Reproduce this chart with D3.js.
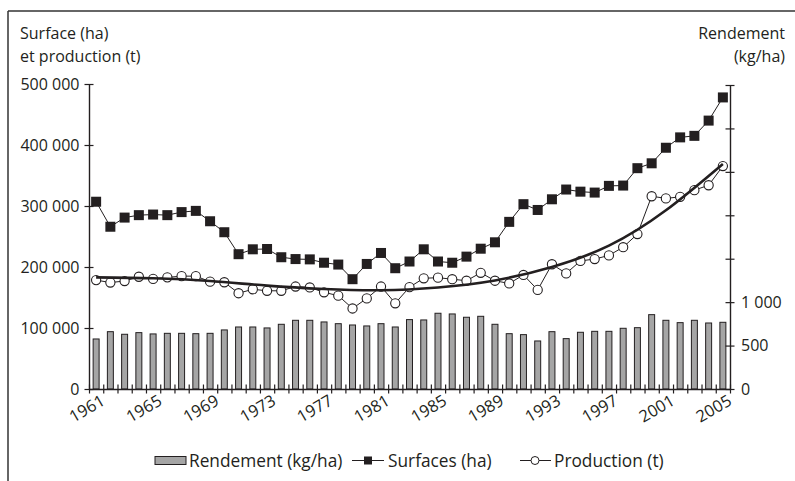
<!DOCTYPE html>
<html><head><meta charset="utf-8">
<script src="https://cdn.jsdelivr.net/npm/d3@7"></script>
<style>
body{margin:0;background:#fff}
text{font-family:'Open Sans',sans-serif;fill:#231f20}
</style>
</head><body><svg id="c" width="795" height="481"></svg>
<script>
const years = [1961,1962,1963,1964,1965,1966,1967,1968,1969,1970,1971,1972,1973,1974,1975,1976,1977,1978,1979,1980,1981,1982,1983,1984,1985,1986,1987,1988,1989,1990,1991,1992,1993,1994,1995,1996,1997,1998,1999,2000,2001,2002,2003,2004,2005];
const rendement = [576,660,630,649,634,641,641,637,641,680,714,714,703,745,791,791,772,752,737,726,752,714,799,795,872,864,826,837,745,637,626,553,660,580,653,664,664,699,706,856,791,764,791,760,768];
const surfaces = [307000,266000,281000,285000,286000,285000,290000,292000,275000,257000,221000,229000,229500,216000,213000,212500,207000,204000,180000,205000,223000,198000,209000,229000,209000,207000,217000,230000,240500,274000,303000,293500,311000,327000,323500,322000,333000,333500,362000,370000,395500,412500,415000,440000,478000];
const production = [178500,174500,177000,184000,180500,183000,185000,185000,176000,175000,157000,163500,161000,161000,168000,166500,158500,153000,132000,148500,168000,140500,167000,181500,182500,180000,177500,190500,177500,173000,187000,162500,204500,189500,210000,213000,219000,232500,254000,316000,312500,315000,326000,334000,365500];
const trendYears = [1961,1965,1969,1973,1977,1981,1985,1989,1993,1997,2001,2005];
const trendValues = [183000,181500,177000,169500,164000,162000,166500,178000,200000,235000,293000,369000];
const leftTicks = [0,100000,200000,300000,400000,500000];
const rightTicks = [0,500,1000,1500,2000,2500,3000,3500];
const rightLabels = [0,500,1000];
const labelYears = [1961,1965,1969,1973,1977,1981,1985,1989,1993,1997,2001,2005];

const INK = '#231f20';
const svg = d3.select('#c');
const fmt = d => d3.format(',')(d).replace(/,/g, '\u00a0');

const x = d3.scaleBand().domain(years).range([89, 730]).padding(0);
const xEdge = d3.scaleLinear().domain([1961, 2006]).range([89, 730]);
const cx = d => x(d) + x.bandwidth() / 2;
const yL = d3.scaleLinear().domain([0, 500000]).range([389, 84]);
const yR = d3.scaleLinear().domain([0, 3500]).range([389, 85]);

// frame
svg.append('line').attr('x1', 8).attr('y1', 11).attr('x2', 795).attr('y2', 11).attr('stroke', '#333').attr('stroke-width', 1.5);
svg.append('line').attr('x1', 8).attr('y1', 11).attr('x2', 8).attr('y2', 481).attr('stroke', '#333').attr('stroke-width', 1.5);

// titles
svg.append('text').attr('x', 20).attr('y', 39).attr('font-size', 16).text('Surface (ha)');
svg.append('text').attr('x', 20).attr('y', 62).attr('font-size', 16).text('et production (t)');
svg.append('text').attr('x', 785).attr('y', 39).attr('font-size', 16).attr('text-anchor', 'end').text('Rendement');
svg.append('text').attr('x', 785).attr('y', 62).attr('font-size', 16).attr('text-anchor', 'end').text('(kg/ha)');

// bars
const bw = x.bandwidth() * 0.42;
svg.append('g').selectAll('rect').data(years).join('rect')
  .attr('x', (d) => cx(d) - bw / 2)
  .attr('y', (d, i) => yR(rendement[i]))
  .attr('width', bw)
  .attr('height', (d, i) => 389 - yR(rendement[i]))
  .attr('fill', '#a5a5a5').attr('stroke', INK).attr('stroke-width', 1);

// axes
function styleAxis(g) {
  g.selectAll('path.domain').attr('stroke', INK).attr('stroke-width', 1.4);
  g.selectAll('.tick line').attr('stroke', INK).attr('stroke-width', 1.2);
  g.selectAll('text').attr('font-size', 16).attr('font-family', "'Open Sans',sans-serif").attr('fill', INK);
}
const gL = svg.append('g').attr('transform', 'translate(89,0)')
  .call(d3.axisLeft(yL).tickValues(leftTicks).tickFormat(fmt).tickSizeInner(4.5).tickSizeOuter(0).tickPadding(5));
gL.selectAll('.tick line').attr('x1', 4.5).attr('x2', -4.5);
styleAxis(gL);

const gR = svg.append('g').attr('transform', 'translate(730,0)')
  .call(d3.axisRight(yR).tickValues(rightTicks).tickFormat(d => rightLabels.includes(d) ? fmt(d) : '').tickSizeInner(4.5).tickSizeOuter(0).tickPadding(6.5));
gR.selectAll('.tick line').attr('x1', -4.5).attr('x2', 4.5);
styleAxis(gR);

const gX = svg.append('g').attr('transform', 'translate(0,389)')
  .call(d3.axisBottom(xEdge).tickValues(d3.range(1961, 2007)).tickFormat('').tickSizeInner(4.5).tickSizeOuter(0));
gX.selectAll('.tick line').attr('y1', -4.5).attr('y2', 4.5);
styleAxis(gX);

svg.append('g').selectAll('text').data(labelYears).join('text')
  .attr('transform', d => `translate(${cx(d) + 10},404) rotate(-30)`)
  .attr('text-anchor', 'end').attr('font-size', 16.5).text(d => d);

// production line + circles
svg.append('path').datum(years)
  .attr('d', d3.line().x(d => cx(d)).y((d, i) => yL(production[i])))
  .attr('fill', 'none').attr('stroke', INK).attr('stroke-width', 1);
svg.append('g').selectAll('circle').data(years).join('circle')
  .attr('cx', d => cx(d)).attr('cy', (d, i) => yL(production[i])).attr('r', 4.6)
  .attr('fill', '#fff').attr('stroke', INK).attr('stroke-width', 1.1);

// trend
svg.append('path').datum(trendYears)
  .attr('d', d3.line().curve(d3.curveNatural).x(d => cx(d)).y((d, i) => yL(trendValues[i])))
  .attr('fill', 'none').attr('stroke', INK).attr('stroke-width', 2.6);

// surfaces line + squares
svg.append('path').datum(years)
  .attr('d', d3.line().x(d => cx(d)).y((d, i) => yL(surfaces[i])))
  .attr('fill', 'none').attr('stroke', INK).attr('stroke-width', 1);
svg.append('g').selectAll('rect').data(years).join('rect')
  .attr('x', d => cx(d) - 5).attr('y', (d, i) => yL(surfaces[i]) - 5)
  .attr('width', 10).attr('height', 10).attr('fill', INK);

// legend
const lg = svg.append('g');
lg.append('rect').attr('x', 155).attr('y', 456.5).attr('width', 31).attr('height', 8)
  .attr('fill', '#a5a5a5').attr('stroke', INK).attr('stroke-width', 1);
lg.append('text').attr('x', 189).attr('y', 467).attr('font-size', 17.3).text('Rendement (kg/ha)');
lg.append('line').attr('x1', 352).attr('x2', 384).attr('y1', 460.5).attr('y2', 460.5).attr('stroke', INK).attr('stroke-width', 1);
lg.append('rect').attr('x', 364).attr('y', 456.5).attr('width', 8).attr('height', 8).attr('fill', INK);
lg.append('text').attr('x', 388).attr('y', 467).attr('font-size', 17.3).text('Surfaces (ha)');
lg.append('line').attr('x1', 520).attr('x2', 551).attr('y1', 460.5).attr('y2', 460.5).attr('stroke', INK).attr('stroke-width', 1);
lg.append('circle').attr('cx', 535).attr('cy', 460.5).attr('r', 4).attr('fill', '#fff').attr('stroke', INK).attr('stroke-width', 1);
lg.append('text').attr('x', 554).attr('y', 467).attr('font-size', 17.3).text('Production (t)');
</script>
</body></html>
